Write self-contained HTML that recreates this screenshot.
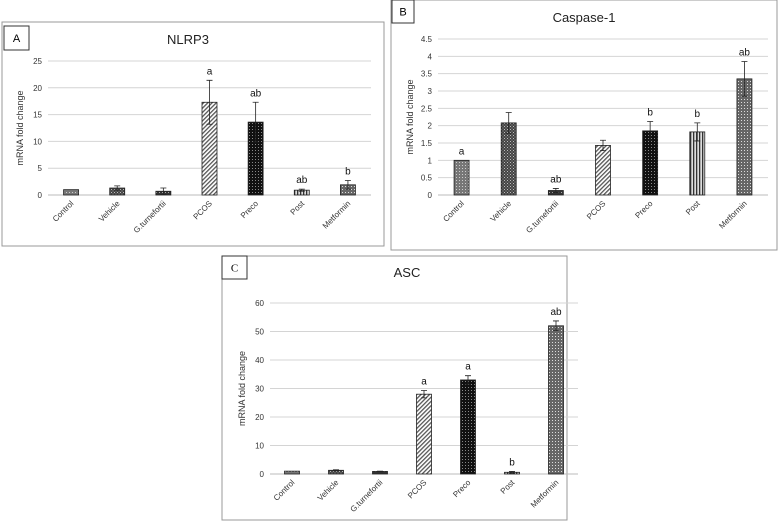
<!DOCTYPE html>
<html><head><meta charset="utf-8"><style>
body{margin:0;background:#fff;width:780px;height:524px;overflow:hidden;font-family:"Liberation Sans",sans-serif}
svg{position:absolute;left:0;top:0}
</style></head><body>
<svg id="chart" width="780" height="524" xmlns="http://www.w3.org/2000/svg">
<defs>
<pattern id="p-control" width="3" height="3" patternUnits="userSpaceOnUse"><rect width="3" height="3" fill="#777"/><rect width="1" height="1" fill="#ccc"/></pattern>
<pattern id="p-vehicle" width="3" height="3" patternUnits="userSpaceOnUse"><rect width="3" height="3" fill="#444"/><rect width="1" height="1" fill="#bbb"/><rect x="1.5" y="1.5" width="1" height="1" fill="#999"/></pattern>
<pattern id="p-g" width="3" height="3" patternUnits="userSpaceOnUse"><rect width="3" height="3" fill="#333"/><rect width="1" height="1" fill="#aaa"/></pattern>
<pattern id="p-pcos" width="3" height="3" patternUnits="userSpaceOnUse" patternTransform="rotate(45)"><rect width="3" height="3" fill="#fff"/><rect width="1.3" height="3" fill="#555"/></pattern>
<pattern id="p-preco" width="3" height="3" patternUnits="userSpaceOnUse"><rect width="3" height="3" fill="#111"/><rect width="1" height="1" fill="#888"/></pattern>
<pattern id="p-post" width="3" height="3" patternUnits="userSpaceOnUse"><rect width="3" height="3" fill="#ddd"/><rect width="1.3" height="3" fill="#333"/></pattern>
<pattern id="p-met" width="3" height="3" patternUnits="userSpaceOnUse"><rect width="3" height="3" fill="#666"/><rect width="1" height="1" fill="#ddd"/></pattern>
</defs>
</svg>
<script>
const categories = ["Control","Vehicle","G.turnefortii","PCOS","Preco","Post","Metformin"];
const nlrp3Values = [1, 1.3, 0.7, 17.3, 13.6, 0.9, 1.9];
const nlrp3Errors = [0, 0.4, 0.6, 4.1, 3.7, 0.2, 0.8];
const nlrp3Letters = ["", "", "", "a", "ab", "ab", "b"];
const nlrp3Ticks = [0, 5, 10, 15, 20, 25];
const caspValues = [1, 2.08, 0.13, 1.43, 1.85, 1.82, 3.35];
const caspErrors = [0, 0.3, 0.06, 0.15, 0.27, 0.26, 0.5];
const caspLetters = ["a", "", "ab", "", "b", "b", "ab"];
const caspTicks = [0, 0.5, 1, 1.5, 2, 2.5, 3, 3.5, 4, 4.5];
const ascValues = [1, 1.3, 0.9, 28, 33, 0.6, 52];
const ascErrors = [0, 0.2, 0.1, 1.3, 1.5, 0.3, 1.7];
const ascLetters = ["", "", "", "a", "a", "b", "ab"];
const ascTicks = [0, 10, 20, 30, 40, 50, 60];
const fills = ["p-control","p-vehicle","p-g","p-pcos","p-preco","p-post","p-met"];
const svg = document.getElementById('chart');
const NS = "http://www.w3.org/2000/svg";
function mk(tag, attrs, parent){const e=document.createElementNS(NS,tag);for(const k in attrs)e.setAttribute(k,attrs[k]);(parent||svg).appendChild(e);return e;}
function panel(o){
  const g = mk('g',{});
  
  
  const box = mk('rect',{x:o.bx,y:o.by,width:o.bw,height:o.bh,fill:'#fff',stroke:'#999','stroke-width':1},g);
  
  
  const lb = mk('rect',{x:o.lx,y:o.ly,width:o.lw,height:o.lh,fill:'#fff',stroke:'#333','stroke-width':1},g);
  
  
  const lt = mk('text',{x:o.lx+o.lw/2,y:o.ly+o.lh/2+4,'text-anchor':'middle','font-size':11,'font-family':o.serif?'Liberation Serif':'Liberation Sans'},g);
  lt.textContent=o.letter;
  
  
  const tt = mk('text',{x:o.tx,y:o.ty,'text-anchor':'middle','font-size':13,fill:'#222'},g);
  tt.textContent=o.title;
  
  
  const max=o.ticks[o.ticks.length-1];
  const y=v=>o.y0-(v/max)*(o.y0-o.yTop);
  const x=i=>o.x0+(i+0.5)*(o.x1-o.x0)/categories.length;
  o.ticks.forEach(t=>{
    const l=mk('line',{x1:o.x0,x2:o.x1,y1:y(t),y2:y(t),stroke:t===0?'#bbb':'#d4d4d4','stroke-width':1},g);
    
    
    const tl=mk('text',{x:o.x0-6,y:y(t)+3,'text-anchor':'end','font-size':8,fill:'#333'},g);
    tl.textContent=t;
    
    
  });
  const yt=mk('text',{transform:`translate(${o.x0-25},${(o.y0+o.yTop)/2}) rotate(-90)`,'text-anchor':'middle','font-size':9,fill:'#333'},g);
  yt.textContent='mRNA fold change';
  
  
  const bw=15;
  categories.forEach((c,i)=>{
    const v=o.values[i], e=o.errors[i], cx=x(i);
    const b=mk('rect',{x:cx-bw/2,y:y(v),width:bw,height:o.y0-y(v),fill:`url(#${fills[i]})`,stroke:'#222','stroke-width':0.8},g);
    
    
    if(e>0){
      const eb=mk('path',{d:`M${cx},${y(v-e)}V${y(v+e)}M${cx-3},${y(v+e)}H${cx+3}M${cx-3},${y(v-e)}H${cx+3}`,stroke:'#222','stroke-width':0.8,fill:'none'},g);
      
      
    }
    if(o.letters[i]){
      const st=mk('text',{x:cx,y:y(v+e)-6,'text-anchor':'middle','font-size':10,fill:'#111'},g);
      st.textContent=o.letters[i];
      
      
    }
    const xl=mk('text',{transform:`translate(${cx+3},${o.y0+9}) rotate(-45)`,'text-anchor':'end','font-size':8,fill:'#333'},g);
    xl.textContent=c;
    
    
  });
}
panel({name:'nlrp3-panel',bx:2,by:22,bw:382,bh:224,lx:4,ly:26,lw:25,lh:24,letter:'A',title:'NLRP3',tx:188,ty:44,
  x0:48,x1:371,y0:195,yTop:61,ticks:nlrp3Ticks,values:nlrp3Values,errors:nlrp3Errors,letters:nlrp3Letters});
panel({name:'caspase1-panel',bx:391,by:0,bw:386,bh:250,lx:392,ly:0,lw:22,lh:23,letter:'B',title:'Caspase-1',tx:584,ty:22,
  x0:438,x1:768,y0:195,yTop:39,ticks:caspTicks,values:caspValues,errors:caspErrors,letters:caspLetters});
panel({name:'asc-panel',bx:222,by:256,bw:345,bh:264,lx:222,ly:256,lw:25,lh:23,letter:'C',serif:true,title:'ASC',tx:407,ty:277,
  x0:270,x1:578,y0:474,yTop:303,ticks:ascTicks,values:ascValues,errors:ascErrors,letters:ascLetters});
</script>
</body></html>
